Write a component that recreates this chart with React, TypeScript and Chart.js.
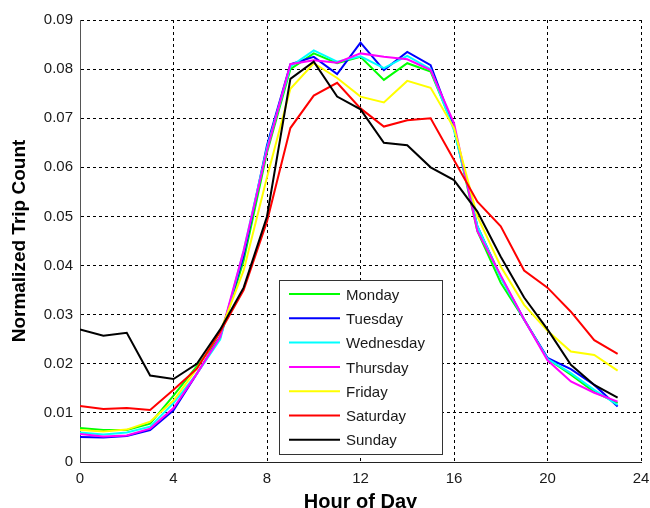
import React, { useEffect, useRef } from "react";
import { Chart, registerables } from "chart.js";

Chart.register(...registerables);

const hours = [0, 1, 2, 3, 4, 5, 6, 7, 8, 9, 10, 11, 12, 13, 14, 15, 16, 17, 18, 19, 20, 21, 22, 23];

const monday = [0.0069, 0.0065, 0.0065, 0.0078, 0.0135, 0.0195, 0.0255, 0.041, 0.063, 0.080, 0.0832, 0.0812, 0.0825, 0.0778, 0.0812, 0.0795, 0.068, 0.047, 0.0365, 0.029, 0.021, 0.0178, 0.0143, 0.012];
const tuesday = [0.0051, 0.005, 0.0053, 0.0065, 0.0105, 0.018, 0.0255, 0.042, 0.0645, 0.081, 0.0825, 0.079, 0.0854, 0.0798, 0.0835, 0.0808, 0.068, 0.048, 0.0377, 0.029, 0.0212, 0.0189, 0.0157, 0.0113];
const wednesday = [0.006, 0.0056, 0.006, 0.0072, 0.012, 0.018, 0.025, 0.043, 0.064, 0.0805, 0.0838, 0.0815, 0.0826, 0.0802, 0.0827, 0.080, 0.0675, 0.048, 0.0375, 0.029, 0.021, 0.0181, 0.0147, 0.0116];
const thursday = [0.0057, 0.0052, 0.0054, 0.0068, 0.011, 0.018, 0.0255, 0.043, 0.0635, 0.081, 0.0818, 0.0813, 0.0832, 0.0825, 0.082, 0.0798, 0.069, 0.047, 0.038, 0.029, 0.0207, 0.0164, 0.0141, 0.0123];
const friday = [0.0065, 0.0062, 0.0066, 0.0082, 0.0125, 0.019, 0.0265, 0.039, 0.058, 0.076, 0.0812, 0.0782, 0.0744, 0.0732, 0.0776, 0.0762, 0.068, 0.050, 0.0398, 0.032, 0.0267, 0.0225, 0.0218, 0.0186];
const saturday = [0.0114, 0.0108, 0.011, 0.0106, 0.0147, 0.019, 0.0265, 0.035, 0.049, 0.068, 0.0746, 0.0772, 0.072, 0.0683, 0.0696, 0.070, 0.0615, 0.053, 0.048, 0.039, 0.0355, 0.0306, 0.0248, 0.022];
const sunday = [0.027, 0.0257, 0.0263, 0.0176, 0.0169, 0.020, 0.027, 0.0355, 0.050, 0.078, 0.0815, 0.0744, 0.0718, 0.065, 0.0645, 0.060, 0.0574, 0.051, 0.0418, 0.0335, 0.027, 0.0198, 0.0157, 0.0131];

const seriesNames = ["Monday", "Tuesday", "Wednesday", "Thursday", "Friday", "Saturday", "Sunday"];
const seriesColors = ["#00ff00", "#0000ff", "#00ffff", "#ff00ff", "#ffff00", "#ff0000", "#000000"];
const seriesValues = [monday, tuesday, wednesday, thursday, friday, saturday, sunday];

const xTicks = [0, 4, 8, 12, 16, 20, 24];
const yTicks = [0, 0.01, 0.02, 0.03, 0.04, 0.05, 0.06, 0.07, 0.08, 0.09];

const FONT = "'Liberation Sans', Arial, Helvetica, sans-serif";

const legendPlugin = {
  id: "insideLegend",
  afterDatasetsDraw(chart: any) {
    const ctx = chart.ctx as CanvasRenderingContext2D;
    const left = 279.5;
    const top = 280.5;
    const w = 163;
    const h = 174;
    ctx.save();
    ctx.fillStyle = "#ffffff";
    ctx.fillRect(left, top, w, h);
    ctx.strokeStyle = "#333333";
    ctx.lineWidth = 1;
    ctx.setLineDash([]);
    ctx.strokeRect(left, top, w, h);
    ctx.font = `15px ${FONT}`;
    ctx.textBaseline = "middle";
    ctx.textAlign = "left";
    chart.data.datasets.forEach((ds: any, i: number) => {
      const y = 294 + i * 24.3;
      ctx.strokeStyle = ds.borderColor;
      ctx.lineWidth = 2;
      ctx.beginPath();
      ctx.moveTo(289, y);
      ctx.lineTo(340, y);
      ctx.stroke();
      ctx.fillStyle = "#1a1a1a";
      ctx.fillText(ds.label, 346, y + 1.5);
    });
    ctx.restore();
  },
};

export default function App() {
  const ref = useRef<HTMLCanvasElement | null>(null);
  useEffect(() => {
    if (!ref.current) return;
    const chart = new Chart(ref.current, {
      type: "line",
      data: {
        datasets: seriesNames.map((name, i) => ({
          label: name,
          data: hours.map((h, j) => ({ x: h, y: seriesValues[i][j] })),
          borderColor: seriesColors[i],
          backgroundColor: seriesColors[i],
          borderWidth: 2,
          pointRadius: 0,
          tension: 0,
          fill: false,
          order: 7 - i,
        })),
      },
      options: {
        animation: false,
        responsive: false,
        layout: { padding: { top: 20, right: 9, left: 0, bottom: 0 } },
        plugins: {
          legend: { display: false },
          tooltip: { enabled: false },
        },
        scales: {
          x: {
            type: "linear",
            min: 0,
            max: 24,
            afterBuildTicks: (s: any) => {
              s.ticks = xTicks.map((v) => ({ value: v }));
            },
            afterFit: (s: any) => {
              s.height = 46;
              s.paddingLeft = 0;
              s.paddingRight = 0;
            },
            ticks: {
              font: { family: FONT, size: 15 },
              color: "#1a1a1a",
              padding: 8,
              maxRotation: 0,
              autoSkip: false,
              callback: (v: any) => String(v),
            },
            grid: { color: "#000000", lineWidth: 1, drawTicks: false },
            border: { display: true, color: "#222222", width: 1, dash: [3, 3] },
            title: {
              display: true,
              text: "Hour of Day",
              font: { family: FONT, size: 20, weight: "bold", lineHeight: 1 },
              color: "#000000",
              padding: { top: 0, bottom: -4 },
            },
          },
          y: {
            type: "linear",
            min: 0,
            max: 0.09,
            afterBuildTicks: (s: any) => {
              s.ticks = yTicks.map((v) => ({ value: v }));
            },
            afterFit: (s: any) => {
              s.width = 80;
              s.paddingTop = 0;
              s.paddingBottom = 0;
            },
            ticks: {
              font: { family: FONT, size: 15 },
              color: "#1a1a1a",
              padding: 7,
              autoSkip: false,
              callback: (v: any) => (v === 0 ? "0" : Number(v).toFixed(2)),
            },
            grid: { color: "#000000", lineWidth: 1, drawTicks: false },
            border: { display: true, color: "#555555", width: 1, dash: [3, 3] },
            title: {
              display: true,
              text: "Normalized Trip Count",
              font: { family: FONT, size: 19, weight: "bold", lineHeight: 1 },
              color: "#000000",
              padding: { top: 10.5, bottom: 0 },
            },
          },
        },
      },
      plugins: [legendPlugin],
    });
    return () => chart.destroy();
  }, []);
  return (
    <div style={{ position: "absolute", left: 0, top: 0, width: 650, height: 508, background: "#fff" }}>
      <canvas ref={ref} width={650} height={508} />
    </div>
  );
}
